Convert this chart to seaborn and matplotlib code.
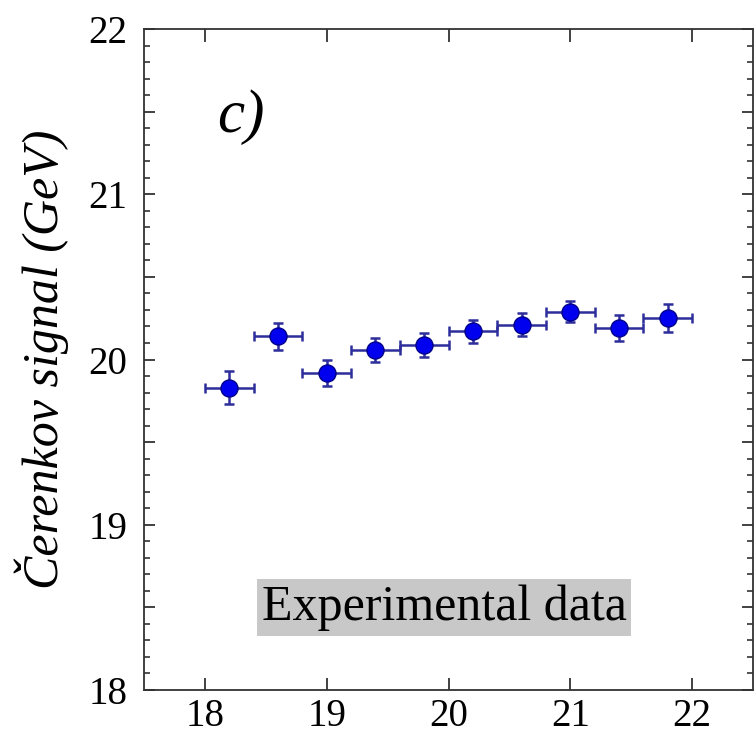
import matplotlib
matplotlib.use("Agg")
import matplotlib.pyplot as plt
from matplotlib.ticker import MultipleLocator, FuncFormatter
import seaborn as sns
import pandas as pd

# ---- data ----
energy = [18.2, 18.6, 19.0, 19.4, 19.8, 20.2, 20.6, 21.0, 21.4, 21.8]
signal = [19.83, 20.14, 19.92, 20.06, 20.09, 20.17, 20.21, 20.29, 20.19, 20.25]
x_err = [0.2, 0.2, 0.2, 0.2, 0.2, 0.2, 0.2, 0.2, 0.2, 0.2]
y_err = [0.10, 0.083, 0.08, 0.073, 0.073, 0.07, 0.07, 0.065, 0.08, 0.085]
x_ticks = [18, 19, 20, 21, 22]
y_ticks = [18, 19, 20, 21, 22]
panel_label = "c)"
box_label = "Experimental data"
y_label = "Čerenkov signal (GeV)"

df = pd.DataFrame({"energy": energy, "signal": signal})

sns.set_theme(style="ticks")
plt.rcParams["font.family"] = ["Liberation Serif", "DejaVu Serif"]
plt.rcParams["text.color"] = "black"
plt.rcParams["axes.labelcolor"] = "black"

fig = plt.figure(figsize=(7.56, 7.39), dpi=100)
ax = fig.add_axes([144 / 756, 49 / 739, 609 / 756, 661 / 739])

ax.errorbar(energy, signal, xerr=x_err, yerr=y_err, fmt="none",
            ecolor="#2d2d9c", elinewidth=1.8, capsize=3.5, capthick=1.8, zorder=2)
sns.scatterplot(data=df, x="energy", y="signal", ax=ax, s=150,
                color="#0000ee", edgecolor="#00008a", linewidth=1.0, zorder=3,
                legend=False)

ax.set_xlim(17.5, 22.5)
ax.set_ylim(18, 22)
ax.set_xticks(x_ticks)
ax.set_xticklabels([str(t) for t in x_ticks])
ax.yaxis.set_major_locator(MultipleLocator(0.5))
ax.yaxis.set_minor_locator(MultipleLocator(0.1))
ax.yaxis.set_major_formatter(FuncFormatter(
    lambda v, p: str(int(round(v))) if abs(v - round(v)) < 1e-6 and int(round(v)) in y_ticks else ""))

ax.tick_params(axis="both", which="both", direction="in", top=True, right=True,
               colors="#333333", labelcolor="black", labelsize=28)
ax.tick_params(axis="x", which="major", length=9, width=1.3, pad=6)
ax.tick_params(axis="y", which="major", length=8, width=1.3, pad=12)
ax.tick_params(axis="y", which="minor", length=4.5, width=1.2)
for s in ax.spines.values():
    s.set_color("#333333")
    s.set_linewidth(1.3)

ax.set_xlabel("")
ax.set_ylabel(y_label, fontsize=36, style="italic", labelpad=14)

ax.text(0.12, 0.845, panel_label, transform=ax.transAxes, fontsize=44,
        style="italic", ha="left", va="baseline")
ax.text(0.4926, 0.1248, box_label, transform=ax.transAxes, fontsize=36,
        ha="center", va="center",
        bbox=dict(boxstyle="square,pad=0.1", facecolor="#c8c8c8", edgecolor="none"))

fig.savefig("out.png", dpi=100)
